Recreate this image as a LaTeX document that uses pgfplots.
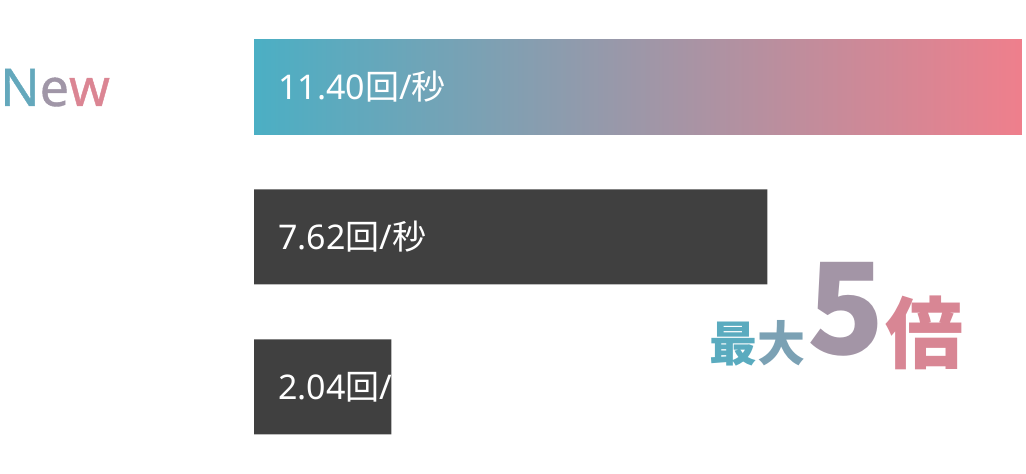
\documentclass[border=0pt]{standalone}
\usepackage{pgfplots}
\pgfplotsset{compat=1.18}
\usepackage{fontspec}
\setmainfont{Noto Sans}
\newfontfamily\jp{Noto Sans CJK JP}

\definecolor{barL}{HTML}{4BAFC4}
\definecolor{barR}{HTML}{EF7F8C}
\definecolor{bardark}{HTML}{404040}

\newcommand\lbl{\fontsize{34}{34}\selectfont}

\begin{document}%
\begin{tikzpicture}
  \useasboundingbox (0,0) rectangle (1026pt,474pt);
  \begin{axis}[
      at={(0pt,0pt)}, anchor=south west,
      scale only axis, width=1026pt, height=474pt,
      xmin=-3.7703, xmax=11.4594, ymin=0, ymax=474,
      hide axis, clip=false,
      xbar, bar width=95, bar shift=0pt,
    ]
    % New
    \addplot[draw=none, left color=barL, right color=barR]
      coordinates {(11.40,387)};
    % older models
    \addplot[draw=none, fill=bardark]
      coordinates {(7.62,237) (2.04,87)};

    \node[anchor=base west, inner sep=0, text=white, font=\lbl,
          xshift=24pt] at (axis cs:0,374) {11.40{\jp 回}/{\jp 秒}};
    \node[anchor=base west, inner sep=0, text=white, font=\lbl,
          xshift=24pt] at (axis cs:0,224) {7.62{\jp 回}/{\jp 秒}};
    \begin{scope}
      \clip (axis cs:0,39.5) rectangle (axis cs:2.04,134.5);
      \node[anchor=base west, inner sep=0, text=white, font=\lbl,
            xshift=24pt] at (axis cs:0,74) {2.04{\jp 回}/{\jp 秒}};
    \end{scope}
  \end{axis}
  % "New" with a left-to-right gradient, one colour per letter
  \node[anchor=base west, inner sep=0,
        font=\fontsize{52}{52}\selectfont\addfontfeatures{FakeBold=0.8}]
    at (0pt,368pt) {\textcolor{barR!15!barL}{N}\textcolor{barR!52!barL}{e}\textcolor{barR!88!barL}{w}};
  % "最大5倍"
  \node[anchor=base west, inner sep=0, text=barR!9!barL,
        font=\jp\fontsize{48}{48}\selectfont\bfseries] at (709pt,112pt) {最};
  \node[anchor=base west, inner sep=0, text=barR!29!barL,
        font=\jp\fontsize{48}{48}\selectfont\bfseries] at (757pt,112pt) {大};
  \node[anchor=base west, inner sep=0, text=barR!54!barL,
        font=\jp\fontsize{127}{127}\selectfont\bfseries] at (807pt,119pt) {5};
  \node[anchor=base west, inner sep=0, text=barR!86!barL,
        font=\jp\fontsize{78}{78}\selectfont\bfseries] at (885pt,111.5pt) {倍};
\end{tikzpicture}%
\end{document}
